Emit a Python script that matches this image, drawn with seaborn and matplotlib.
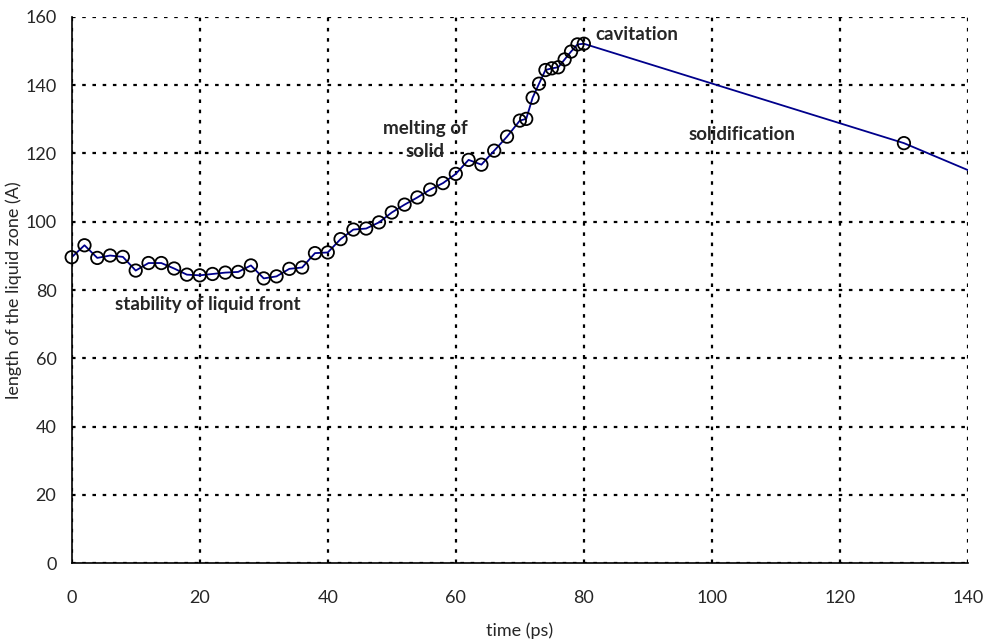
import numpy as np
import pandas as pd
import matplotlib
matplotlib.use('Agg')
import matplotlib.pyplot as plt
import seaborn as sns

# values
time_ps = [0, 2, 4, 6, 8, 10, 12, 14, 16, 18, 20, 22, 24, 26, 28, 30, 32, 34,
           36, 38, 40, 42, 44, 46, 48, 50, 52, 54, 56, 58, 60, 62, 64, 66, 68,
           70, 71, 72, 73, 74, 75, 76, 77, 78, 79, 80, 130, 150]
length_a = [89.6, 93.1, 89.4, 90.1, 89.7, 85.7, 87.9, 87.9, 86.3, 84.5, 84.3,
            84.7, 85.1, 85.3, 87.2, 83.4, 84.0, 86.2, 86.6, 90.8, 91.0, 94.9,
            97.7, 98.0, 99.8, 102.7, 105.0, 107.1, 109.4, 111.3, 114.0, 118.1,
            116.7, 120.8, 124.9, 129.6, 130.1, 136.3, 140.4, 144.4, 144.9,
            145.2, 147.5, 149.8, 151.9, 152.1, 123.0, 107.2]

x_ticks = [0, 20, 40, 60, 80, 100, 120, 140]
y_ticks = [0, 20, 40, 60, 80, 100, 120, 140, 160]

notes = ["stability of liquid front", "melting of\nsolid", "cavitation", "solidification"]
note_x = [21.2, 55.2, 88.2, 104.7]
note_y = [75.7, 124.0, 154.7, 125.4]

df = pd.DataFrame({'time': time_ps, 'length': length_a})
shown = df[df['time'] <= 140]

sns.set_style('white')
plt.rcParams['font.family'] = ['Lato', 'DejaVu Sans']

fig = plt.figure(figsize=(9.86, 6.44), dpi=100)
ax = fig.add_axes([0.0727, 0.1253, 0.909, 0.8487])

sns.lineplot(data=df, x='time', y='length', ax=ax, color='#00008B',
             linewidth=1.3, sort=False)
sns.scatterplot(data=shown, x='time', y='length', ax=ax, s=80,
                facecolor='none', edgecolor='black', linewidth=1.3,
                clip_on=False, zorder=6)

ax.set_xlim(0, 140)
ax.set_ylim(0, 160)
ax.set_xticks(x_ticks)
ax.set_yticks(y_ticks)
ax.tick_params(axis='both', labelsize=13, direction='out', length=5,
               width=1, color='black', pad=6)
ax.tick_params(axis='x', pad=14)

ax.grid(True, color='black', linestyle=(0, (1.6, 3)), linewidth=1.6)
for side in ['top', 'right']:
    ax.spines[side].set_visible(False)
for side in ['left', 'bottom']:
    ax.spines[side].set_color('black')
    ax.spines[side].set_linewidth(1.2)
    ax.spines[side].set_zorder(5)

ax.set_xlabel('time (ps)', fontsize=13, labelpad=12)
ax.set_ylabel('length of the liquid zone (A)', fontsize=13, labelpad=2)

for txt, tx, ty in zip(notes, note_x, note_y):
    ax.text(tx, ty, txt, fontsize=13.5, fontweight='bold',
            ha='center', va='center', linespacing=1.4)

fig.savefig('out.png', dpi=100)
